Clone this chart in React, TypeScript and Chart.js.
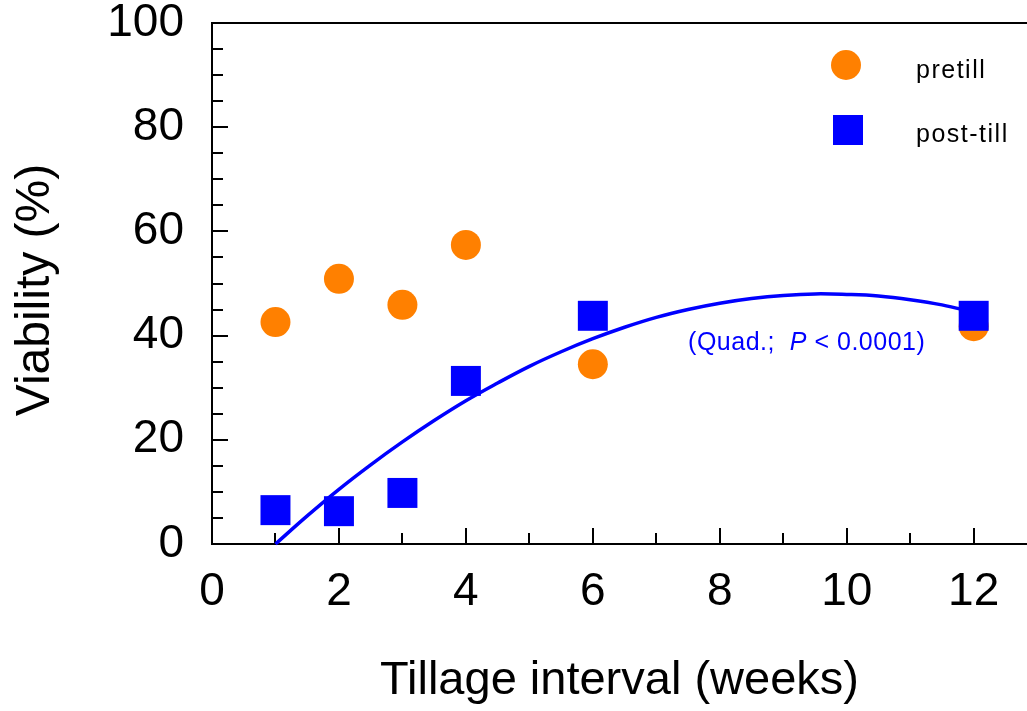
import React, { useEffect, useRef } from "react";
import { Chart, registerables } from "chart.js";

Chart.register(...registerables);

// ---- data ----
const weeks = [1, 2, 3, 4, 6, 12];
const pretill = [42.6, 50.9, 45.9, 57.4, 34.5, 41.8];
const postTill = [6.5, 6.3, 9.8, 31.3, 43.8, 43.8];

// fitted quadratic curve
const curveX = [1, 1.5, 2, 2.5, 3, 3.5, 4, 4.5, 5, 5.5, 6, 6.5, 7, 7.5, 8, 8.5, 9, 9.5, 10, 10.5, 11, 11.5, 12];
const curveY = [0, 5.4, 10.5, 15.2, 19.6, 23.7, 27.5, 30.9, 34.1, 36.9, 39.4, 41.6, 43.5, 45.0, 46.2, 47.1, 47.7, 48.0, 47.9, 47.6, 46.9, 45.9, 44.5];

const xTickLabels = [0, 2, 4, 6, 8, 10, 12];
const yTickLabels = [0, 20, 40, 60, 80, 100];
const xMinorTicks = [1, 3, 5, 7, 9, 11];
const yMinorTicks = [5, 10, 15, 25, 30, 35, 45, 50, 55, 65, 70, 75, 85, 90, 95];

const seriesNames = ["pretill", "post-till"];
const xTitle = "Tillage interval (weeks)";
const yTitle = "Viability (%)";
const fitNote = "(Quad.;  ";
const fitP = "P";
const fitRest = " < 0.0001)";

const ORANGE = "#FF8000";
const BLUE = "#0000FF";
const FONT = "'Liberation Sans', Arial, Helvetica, sans-serif";

const framePlugin = {
  id: "frame",
  beforeDatasetsDraw(chart: any) {
    const { ctx, chartArea, scales } = chart;
    const xs = scales.x;
    const ys = scales.y;
    const L = chartArea.left;
    const B = chartArea.bottom;
    const T = chartArea.top;
    const R = chart.width;
    ctx.save();
    ctx.strokeStyle = "#000";
    ctx.lineWidth = 2;
    ctx.beginPath();
    ctx.moveTo(L, T);
    ctx.lineTo(R, T);
    ctx.moveTo(L, T - 1);
    ctx.lineTo(L, B);
    ctx.lineTo(R, B);
    yTickLabels.forEach((v) => {
      if (v === 0 || v === 100) return;
      const py = Math.round(ys.getPixelForValue(v));
      ctx.moveTo(L, py);
      ctx.lineTo(L + 16, py);
    });
    yMinorTicks.forEach((v) => {
      const py = Math.round(ys.getPixelForValue(v));
      ctx.moveTo(L, py);
      ctx.lineTo(L + 11, py);
    });
    xTickLabels.forEach((v) => {
      if (v === 0) return;
      const px = Math.round(xs.getPixelForValue(v));
      ctx.moveTo(px, B);
      ctx.lineTo(px, B - 16);
    });
    xMinorTicks.forEach((v) => {
      const px = Math.round(xs.getPixelForValue(v));
      ctx.moveTo(px, B);
      ctx.lineTo(px, B - 11);
    });
    ctx.stroke();
    ctx.restore();
  },
  afterDraw(chart: any) {
    const { ctx, scales } = chart;
    const xs = scales.x;
    const ys = scales.y;
    ctx.save();
    // y title
    ctx.translate(36, 290);
    ctx.rotate(-Math.PI / 2);
    ctx.fillStyle = "#000";
    ctx.font = `48px ${FONT}`;
    ctx.textAlign = "center";
    ctx.textBaseline = "middle";
    ctx.fillText(yTitle, 0, 0);
    ctx.restore();

    // legend
    ctx.save();
    ctx.fillStyle = ORANGE;
    ctx.beginPath();
    ctx.arc(846, 65, 15, 0, Math.PI * 2);
    ctx.fill();
    ctx.fillStyle = BLUE;
    ctx.fillRect(833, 115, 30, 30);
    ctx.fillStyle = "#000";
    ctx.font = `25px ${FONT}`;
    (ctx as any).letterSpacing = "1.5px";
    ctx.textAlign = "left";
    ctx.textBaseline = "alphabetic";
    ctx.fillText(seriesNames[0], 916, 78);
    ctx.fillText(seriesNames[1], 916, 142);
    ctx.restore();

    // fit annotation
    ctx.save();
    ctx.fillStyle = BLUE;
    ctx.font = `25px ${FONT}`;
    (ctx as any).letterSpacing = "0.5px";
    ctx.textBaseline = "alphabetic";
    let px = xs.getPixelForValue(7.5);
    const py = ys.getPixelForValue(37.2);
    ctx.fillText(fitNote, px, py);
    px += ctx.measureText(fitNote).width;
    ctx.font = `italic 25px ${FONT}`;
    ctx.fillText(fitP, px, py);
    px += ctx.measureText(fitP).width;
    ctx.font = `25px ${FONT}`;
    ctx.fillText(fitRest, px, py);
    ctx.restore();
  },
};

export default function App() {
  const ref = useRef<HTMLCanvasElement | null>(null);
  useEffect(() => {
    document.body.style.margin = "0";
    if (!ref.current) return;
    const chart = new Chart(ref.current, {
      type: "scatter",
      data: {
        datasets: [
          {
            label: seriesNames[1],
            data: weeks.map((w, i) => ({ x: w, y: postTill[i] })),
            backgroundColor: BLUE,
            borderWidth: 0,
            pointStyle: "rect",
            pointRadius: 21.2,
            pointHoverRadius: 21.2,
            order: 1,
            clip: false,
          },
          {
            label: seriesNames[0],
            data: weeks.map((w, i) => ({ x: w, y: pretill[i] })),
            backgroundColor: ORANGE,
            borderWidth: 0,
            pointStyle: "circle",
            pointRadius: 15,
            pointHoverRadius: 15,
            order: 2,
            clip: false,
          },
          {
            type: "line",
            label: "fit",
            data: curveX.map((x, i) => ({ x, y: curveY[i] })),
            borderColor: BLUE,
            borderWidth: 3.5,
            pointRadius: 0,
            showLine: true,
            tension: 0.4,
            fill: false,
            order: 0,
            clip: false,
          } as any,
        ],
      },
      options: {
        animation: false,
        responsive: false,
        layout: { autoPadding: false, padding: { top: 23, right: 0, left: 0, bottom: 0 } },
        plugins: { legend: { display: false }, tooltip: { enabled: false } },
        scales: {
          x: {
            type: "linear",
            min: 0,
            max: 12.84,
            afterBuildTicks: (s: any) => {
              s.ticks = xTickLabels.map((v) => ({ value: v }));
            },
            afterFit: (s: any) => {
              s.height = 167;
              s.paddingLeft = 0;
              s.paddingRight = 0;
              s.paddingTop = 0;
              s.paddingBottom = 0;
            },
            grid: { display: false, drawTicks: false },
            border: { display: false },
            ticks: {
              color: "#000",
              padding: 21,
              maxRotation: 0,
              autoSkip: false,
              font: { family: FONT, size: 46 },
            },
            title: {
              display: true,
              text: xTitle,
              color: "#000",
              padding: { top: 0, bottom: 2 },
              font: { family: FONT, size: 47 },
            },
          },
          y: {
            type: "linear",
            min: 0,
            max: 100,
            afterBuildTicks: (s: any) => {
              s.ticks = yTickLabels.map((v) => ({ value: v }));
            },
            afterFit: (s: any) => {
              s.width = 212;
              s.paddingLeft = 0;
              s.paddingRight = 0;
              s.paddingTop = 0;
              s.paddingBottom = 0;
            },
            grid: { display: false, drawTicks: false },
            border: { display: false },
            ticks: {
              color: "#000",
              padding: 28,
              autoSkip: false,
              font: { family: FONT, size: 46, lineHeight: 1 },
            },
          },
        },
      },
      plugins: [framePlugin],
    });
    return () => chart.destroy();
  }, []);
  return (
    <div style={{ width: 1027, height: 711 }}>
      <canvas ref={ref} width={1027} height={711} style={{ display: "block" }} />
    </div>
  );
}
